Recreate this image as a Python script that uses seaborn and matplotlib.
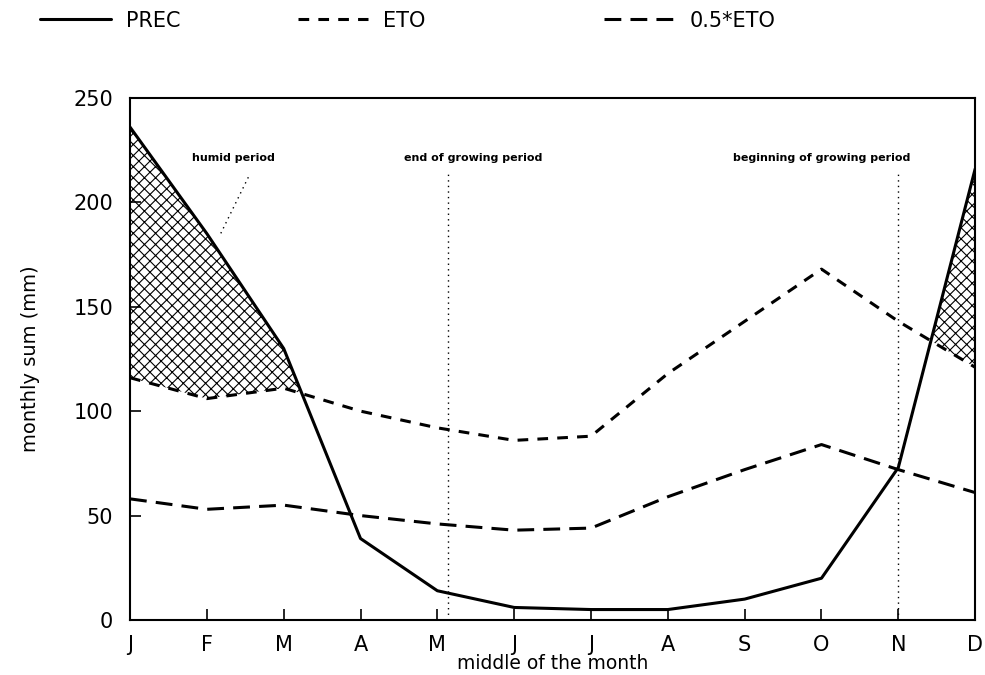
import numpy as np
import matplotlib
matplotlib.use("Agg")
import matplotlib.pyplot as plt
import seaborn as sns

months = ["J", "F", "M", "A", "M", "J", "J", "A", "S", "O", "N", "D"]
prec = [236, 185, 130, 39, 14, 6, 5, 5, 10, 20, 73, 216]
eto = [116, 106, 111, 100, 92, 86, 88, 118, 143, 168, 143, 121]
half_eto = [58, 53, 55, 50, 46, 43, 44, 59, 72, 84, 72, 61]
y_ticks = [0, 50, 100, 150, 200, 250]

sns.set_style("ticks")
plt.rcParams['font.family'] = ['DejaVu Sans']
plt.rcParams['hatch.linewidth'] = 0.8
plt.rcParams['text.color'] = 'black'
plt.rcParams['axes.labelcolor'] = 'black'
plt.rcParams['xtick.color'] = 'black'
plt.rcParams['ytick.color'] = 'black'
plt.rcParams['axes.edgecolor'] = 'black'

x = np.arange(len(months))

fig = plt.figure(figsize=(9.85, 6.75), dpi=100)
ax = fig.add_axes([0.132, 0.0815, 0.858, 0.7735])

# humid period hatching where PREC > ETO
ax.fill_between(x, prec, eto, where=np.array(prec) > np.array(eto), interpolate=True,
                facecolor="none", edgecolor="black", hatch="xxx", linewidth=0)

sns.lineplot(x=x, y=prec, ax=ax, color="black", linewidth=2.2, label="PREC")
sns.lineplot(x=x, y=eto, ax=ax, color="black", linewidth=2.2, label="ETO")
sns.lineplot(x=x, y=half_eto, ax=ax, color="black", linewidth=2.2, label="0.5*ETO")
ax.lines[1].set_dashes([3.5, 3.0])
ax.lines[2].set_dashes([5.5, 3.0])

# growing period markers
ax.plot([4.14, 4.14], [0, 214], color="black", linestyle=(0, (1, 3)), linewidth=1)
ax.plot([10.0, 10.0], [0, 214], color="black", linestyle=(0, (1, 3)), linewidth=1)
ax.plot([1.54, 1.18], [212, 185], color="black", linestyle=(0, (1, 3)), linewidth=1)

ax.text(1.35, 221, "humid period", ha="center", va="center", fontsize=8, fontweight="bold")
ax.text(4.47, 221, "end of growing period", ha="center", va="center", fontsize=8, fontweight="bold")
ax.text(9.0, 221, "beginning of growing period", ha="center", va="center", fontsize=8, fontweight="bold")

ax.set_xlim(0, 11)
ax.set_ylim(0, 250)
ax.set_xticks(x)
ax.set_xticklabels(months)
ax.set_yticks(y_ticks)
ax.tick_params(direction="in", length=8, width=1.2, labelsize=15)
ax.tick_params(axis="x", pad=11)
ax.tick_params(axis="y", pad=12)
for s in ax.spines.values():
    s.set_linewidth(1.5)

ax.set_xlabel("middle of the month", fontsize=13.5, labelpad=-1)
ax.set_ylabel("monthly sum (mm)", fontsize=14, labelpad=24)

handles, labels = ax.get_legend_handles_labels()
ax.get_legend().remove()
for h, lab, xpos in zip(handles, labels, [0.022, 0.283, 0.594]):
    fig.legend([h], [lab], loc="upper left", bbox_to_anchor=(xpos, 1.012),
               frameon=False, fontsize=15, handlelength=3.4, handletextpad=0.7)

fig.savefig("out.png", dpi=100)
